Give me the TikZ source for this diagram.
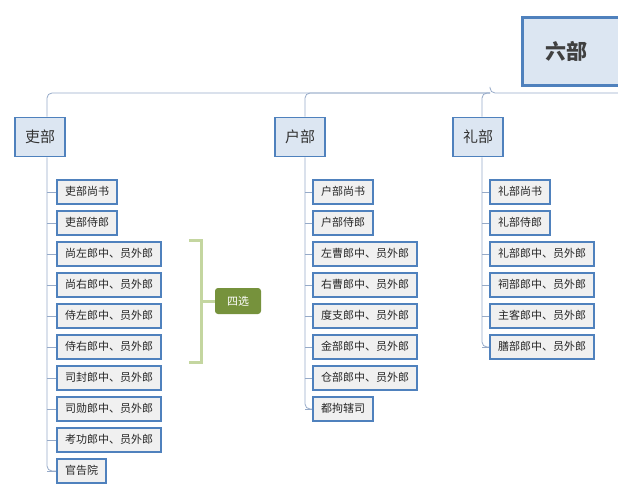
\documentclass[tikz,border=0pt]{standalone}
\usepackage{fontspec}
\setmainfont{Noto Sans CJK SC}
\usetikzlibrary{positioning}
\definecolor{lineblue}{RGB}{79,129,189}
\definecolor{linkgray}{RGB}{150,170,200}
\definecolor{catfill}{RGB}{220,230,242}
\definecolor{itemfill}{RGB}{240,240,240}
\definecolor{selgreen}{RGB}{118,146,60}
\definecolor{bracegreen}{RGB}{196,214,160}

\begin{document}
\begin{tikzpicture}
  [x=1pt, y=-1pt,
    top/.style={rectangle, draw=lineblue, line width=3pt, fill=catfill, minimum width=100pt, minimum height=68pt, anchor=north west, font=\bfseries\fontsize{21}{21}\selectfont, text=black!75},
    dept/.style={rectangle, draw=lineblue, line width=1.6pt, fill=catfill, minimum width=50pt, minimum height=39pt, font=\fontsize{15}{15}\selectfont, text=black!80},
    item/.style={rectangle, draw=lineblue, line width=2.2pt, fill=itemfill, anchor=west, minimum height=24pt, text height=9pt, text depth=2pt, inner xsep=8pt, font=\fontsize{11}{11}\selectfont, text=black!85},
    link/.style={draw=linkgray, line width=0.8pt, rounded corners=5pt}
  ]
  \useasboundingbox (0,0) rectangle (618,500);

  \node[top] (liubu) at (521,16) {\hspace*{-12pt}六部};

  \node[dept] (li)  at (40,137)  {吏部};
  \node[dept] (hu)  at (300,137) {户部};
  \node[dept] (lib) at (478,137) {礼部};

  \draw[link] (li.north -| 47,0) |- (490,93) coordinate (bar);
  \draw[link] (hu.north -| 305,0) |- (bar);
  \draw[link] (lib.north -| 482,0) |- (bar);
  \draw[link] (liubu.south -| bar) -- (bar) -- (618,93);

  % 吏部
  \foreach \t [count=\i] in {吏部尚书,吏部侍郎,尚左郎中、员外郎,尚右郎中、员外郎,侍左郎中、员外郎,侍右郎中、员外郎,司封郎中、员外郎,司勋郎中、员外郎,考功郎中、员外郎,官告院} {
    \node[item] (li\i) at (56,161+31*\i) {\t};
    \draw[link, rounded corners=0pt] (47,161+31*\i) coordinate (lis\i) -- (li\i.west);
  }
  \draw[link] (li.south -| 47,0) -- (lis9) |- (li10.west);

  % 户部
  \foreach \t [count=\i] in {户部尚书,户部侍郎,左曹郎中、员外郎,右曹郎中、员外郎,度支郎中、员外郎,金部郎中、员外郎,仓部郎中、员外郎,都拘辖司} {
    \node[item] (hu\i) at (312,161+31*\i) {\t};
    \draw[link, rounded corners=0pt] (305,161+31*\i) coordinate (hus\i) -- (hu\i.west);
  }
  \draw[link] (hu.south -| 305,0) -- (hus7) |- (hu8.west);

  % 礼部
  \foreach \t [count=\i] in {礼部尚书,礼部侍郎,礼部郎中、员外郎,祠部郎中、员外郎,主客郎中、员外郎,膳部郎中、员外郎} {
    \node[item] (lb\i) at (489,161+31*\i) {\t};
    \draw[link, rounded corners=0pt] (482,161+31*\i) coordinate (lbs\i) -- (lb\i.west);
  }
  \draw[link] (lib.south -| 482,0) -- (lbs5) |- (lb6.west);

  % 四选
  \node[rectangle, rounded corners=3pt, fill=selgreen, text=white, minimum width=46pt, minimum height=26pt, font=\itshape\fontsize{11}{11}\selectfont] (sixuan) at (238,301) {四选};
  \draw[bracegreen, line width=3pt] (189,240) -| (201,362) -- (189,362);
  \draw[bracegreen, line width=3pt] (201,301) -- (sixuan.west);
\end{tikzpicture}
\end{document}
